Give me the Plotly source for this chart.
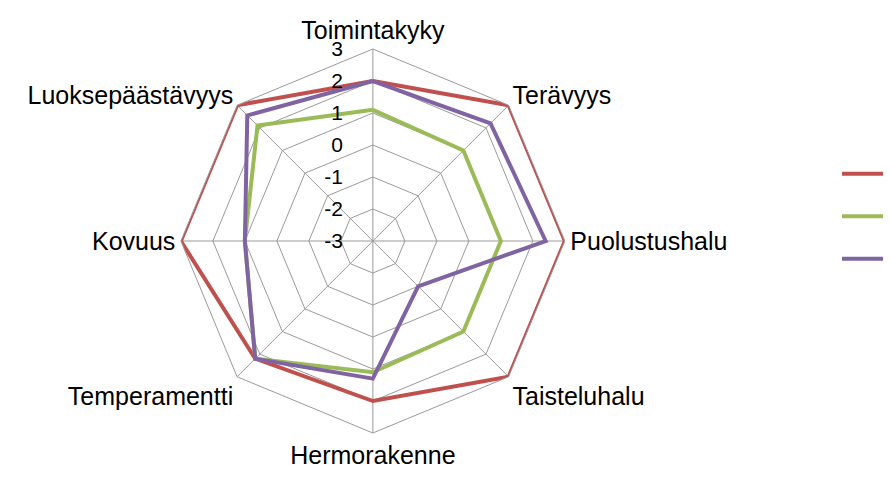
import plotly.graph_objects as go

categories = ["Toimintakyky", "Terävyys", "Puolustushalu", "Taisteluhalu",
              "Hermorakenne", "Temperamentti", "Kovuus", "Luoksepäästävyys"]
series_names = [" ", "  ", "   "]
red_values = [2, 3, 3, 3, 2, 2.2, 3, 3]
green_values = [1.1, 1, 1, 1, 1.1, 2.2, 1, 2.1]
purple_values = [2, 2.2, 2.4, -1, 1.3, 2.2, 1, 2.55]
colors = ["#C0504D", "#9BBB59", "#8064A2"]
radial_ticks = [-3, -2, -1, 0, 1, 2, 3]

fig = go.Figure()
for name, vals, col in zip(series_names, [red_values, green_values, purple_values], colors):
    fig.add_trace(go.Scatterpolar(
        r=vals + vals[:1],
        theta=categories + categories[:1],
        mode="lines",
        name=name,
        legendgroup=name,
        line=dict(color=col, width=4),
    ))

grid = "#9a9a9a"
fig.update_layout(
    width=891, height=477,
    margin=dict(l=0, r=0, t=0, b=0, autoexpand=False),
    paper_bgcolor="white",
    font=dict(family="Liberation Sans, Arial, sans-serif", color="#000000", size=21),
    polar=dict(
        domain=dict(x=[0.194, 0.625], y=[0.109, 0.914]),
        bgcolor="white",
        gridshape="linear",
        radialaxis=dict(
            range=[-3, 3],
            tickvals=radial_ticks,
            ticktext=[str(v) for v in radial_ticks],
            angle=90,
            tickangle=90,
            side="counterclockwise",
            ticks="outside", ticklen=22, tickcolor="rgba(0,0,0,0)",
            showline=False,
            gridcolor=grid, gridwidth=1,
            tickfont=dict(size=21),
        ),
        angularaxis=dict(
            direction="clockwise",
            rotation=90,
            gridcolor=grid, gridwidth=1,
            linecolor=grid, linewidth=1,
            ticks="",
            tickfont=dict(size=25),
        ),
    ),
    showlegend=True,
    legend=dict(
        xref="container", yref="container",
        x=829 / 891, xanchor="left",
        y=1 - 143 / 477, yanchor="top",
        itemwidth=70,
        tracegroupgap=7,
        font=dict(size=25),
        bgcolor="rgba(0,0,0,0)",
    ),
)

fig.write_html("out.html")
